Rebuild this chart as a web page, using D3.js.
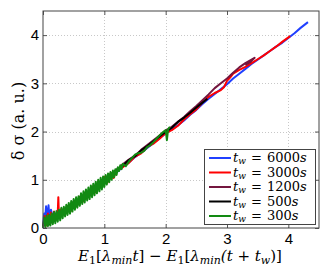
<!DOCTYPE html>
<html><head><meta charset="utf-8">
<script src="https://cdn.jsdelivr.net/npm/d3@7"></script>
<style>body{margin:0;background:#fff}svg{display:block}</style>
</head><body>
<svg id="c" width="332" height="270"></svg>
<script>
const xTicks = [0, 1, 2, 3, 4];
const yTicks = [0, 1, 2, 3, 4];
const seriesLabels = ["6000s", "3000s", "1200s", "500s", "300s"];
const seriesColors = ["#2040ff", "#ff0000", "#74163f", "#000000", "#128a12"];

const tw6000 = [[0,0.05],[0.02,0.3],[0.03,0.1],[0.05,0.45],[0.07,0.2],[0.09,0.47],[0.11,0.15],[0.13,0.38],[0.16,0.22],[0.2,0.3],[0.25,0.22],[0.3,0.38],[0.35,0.3],[0.4,0.45],[0.45,0.4],[0.5,0.55],[0.55,0.5],[0.6,0.62],[0.65,0.58],[0.7,0.72],[0.8,0.8],[0.9,0.88],[1.0,0.98],[1.1,1.06],[1.2,1.15],[1.3,1.27],[1.4,1.36],[1.5,1.47],[1.6,1.56],[1.7,1.66],[1.8,1.76],[1.9,1.86],[2.0,1.96],[2.1,2.05],[2.2,2.13],[2.3,2.23],[2.4,2.35],[2.5,2.45],[2.6,2.57],[2.7,2.68],[2.8,2.78],[2.9,2.88],[3.0,2.98],[3.1,3.1],[3.2,3.2],[3.3,3.3],[3.4,3.4],[3.5,3.49],[3.6,3.58],[3.7,3.67],[3.8,3.76],[3.9,3.84],[4.0,3.94],[4.1,4.04],[4.2,4.15],[4.32,4.27]];
const tw3000 = [[0,0.02],[0.03,0.25],[0.05,0.05],[0.08,0.3],[0.1,0.08],[0.13,0.32],[0.15,0.12],[0.18,0.34],[0.2,0.15],[0.24,0.3],[0.25,0.64],[0.26,0.22],[0.3,0.4],[0.35,0.28],[0.4,0.45],[0.45,0.35],[0.5,0.55],[0.55,0.45],[0.6,0.65],[0.65,0.55],[0.7,0.75],[0.75,0.64],[0.8,0.86],[0.85,0.74],[0.9,0.96],[0.95,0.84],[1.0,1.06],[1.05,0.94],[1.1,1.12],[1.15,1.04],[1.2,1.2],[1.3,1.26],[1.4,1.35],[1.5,1.48],[1.6,1.55],[1.7,1.68],[1.8,1.75],[1.9,1.85],[2.0,1.97],[2.1,2.03],[2.2,2.12],[2.3,2.25],[2.4,2.36],[2.5,2.46],[2.6,2.6],[2.7,2.72],[2.8,2.8],[2.9,2.86],[2.95,2.92],[3.0,3.05],[3.05,3.12],[3.1,3.2],[3.2,3.28],[3.3,3.34],[3.4,3.42],[3.5,3.5],[3.6,3.58],[3.7,3.67],[3.8,3.76],[3.9,3.86],[4.03,3.98]];
const tw1200 = [[0,0.05],[0.05,0.2],[0.1,0.1],[0.15,0.28],[0.2,0.18],[0.3,0.34],[0.4,0.4],[0.5,0.52],[0.6,0.58],[0.7,0.72],[0.8,0.8],[0.9,0.94],[1.0,1.0],[1.1,1.12],[1.2,1.2],[1.3,1.32],[1.4,1.42],[1.5,1.5],[1.6,1.62],[1.7,1.72],[1.8,1.82],[1.9,1.92],[2.0,2.02],[2.1,2.1],[2.2,2.2],[2.3,2.3],[2.4,2.42],[2.5,2.53],[2.6,2.65],[2.7,2.77],[2.8,2.9],[2.9,3.0],[3.0,3.1],[3.1,3.22],[3.2,3.33],[3.3,3.42],[3.45,3.53],[3.38,3.44],[3.3,3.38]];
const tw500 = [[0,0.03],[0.05,0.15],[0.1,0.08],[0.2,0.22],[0.3,0.3],[0.4,0.42],[0.5,0.48],[0.6,0.62],[0.7,0.68],[0.8,0.82],[0.9,0.88],[1.0,1.01],[1.1,1.08],[1.2,1.21],[1.3,1.29],[1.4,1.41],[1.5,1.49],[1.6,1.61],[1.7,1.7],[1.8,1.8],[1.9,1.9],[2.0,1.99],[2.1,2.08],[2.2,2.2],[2.3,2.29],[2.4,2.39],[2.5,2.5],[2.6,2.6],[2.68,2.68]];
const tw300 = [[0,0.0],[0.02,0.22],[0.04,0.02],[0.06,0.26],[0.08,0.04],[0.1,0.27],[0.12,0.05],[0.14,0.3],[0.16,0.08],[0.18,0.33],[0.2,0.1],[0.22,0.35],[0.24,0.13],[0.26,0.38],[0.28,0.16],[0.3,0.42],[0.32,0.2],[0.34,0.44],[0.36,0.24],[0.38,0.48],[0.4,0.27],[0.42,0.52],[0.44,0.3],[0.46,0.56],[0.48,0.34],[0.5,0.6],[0.52,0.38],[0.54,0.64],[0.56,0.42],[0.58,0.66],[0.6,0.46],[0.62,0.72],[0.64,0.5],[0.66,0.76],[0.68,0.53],[0.7,0.8],[0.72,0.57],[0.74,0.84],[0.76,0.6],[0.78,0.88],[0.8,0.64],[0.82,0.92],[0.84,0.68],[0.86,0.96],[0.88,0.72],[0.9,1.0],[0.92,0.76],[0.94,1.04],[0.96,0.8],[0.98,1.07],[1.0,0.85],[1.02,1.1],[1.04,0.9],[1.06,1.13],[1.08,0.95],[1.1,1.16],[1.12,1.0],[1.14,1.19],[1.16,1.05],[1.18,1.22],[1.2,1.1],[1.22,1.26],[1.24,1.18],[1.26,1.3],[1.28,1.22],[1.3,1.33],[1.35,1.28],[1.4,1.38],[1.45,1.45],[1.5,1.52],[1.55,1.55],[1.6,1.56],[1.65,1.6],[1.7,1.68],[1.75,1.72],[1.8,1.78],[1.85,1.85],[1.9,1.92],[1.95,1.98],[2.0,2.03],[2.02,1.82],[2.04,2.05],[2.07,2.1]];

const seriesData = [tw6000, tw3000, tw1200, tw500, tw300];

const svg = d3.select("#c");
const L = 43, R = 319, T = 11, B = 228;
const x = d3.scaleLinear().domain([0, 4.5]).range([L, R]);
const y = d3.scaleLinear().domain([0, 4.5]).range([B, T]);

// grid
const grid = svg.append("g").attr("stroke", "#c8c8c8").attr("stroke-width", 1).attr("stroke-dasharray", "1,2");
grid.selectAll("line.gx").data(xTicks.filter(d => d > 0)).join("line")
  .attr("x1", d => Math.round(x(d)) + 0.5).attr("x2", d => Math.round(x(d)) + 0.5).attr("y1", T).attr("y2", B);
grid.selectAll("line.gy").data(yTicks.filter(d => d > 0)).join("line")
  .attr("y1", d => Math.round(y(d)) + 0.5).attr("y2", d => Math.round(y(d)) + 0.5).attr("x1", L).attr("x2", R);

// series
const line = d3.line().x(d => x(d[0])).y(d => y(d[1]));
seriesData.forEach((data, i) => {
  svg.append("path").attr("d", line(data)).attr("fill", "none")
    .attr("stroke", seriesColors[i]).attr("stroke-width", 2).attr("stroke-linejoin", "round");
});

// axes
const xAxis = d3.axisBottom(x).tickValues(xTicks).tickSize(-4).tickPadding(5).tickFormat(d3.format("d"));
const yAxis = d3.axisLeft(y).tickValues(yTicks).tickSize(-4).tickPadding(4).tickFormat(d3.format("d"));
const gx = svg.append("g").attr("transform", `translate(0,${B})`).call(xAxis);
const gy = svg.append("g").attr("transform", `translate(${L},0)`).call(yAxis);
const gxTop = svg.append("g").attr("transform", `translate(0,${T})`).call(d3.axisTop(x).tickValues(xTicks).tickSize(-4).tickFormat(""));
const gyR = svg.append("g").attr("transform", `translate(${R},0)`).call(d3.axisRight(y).tickValues(yTicks).tickSize(-4).tickFormat(""));
[gx, gy, gxTop, gyR].forEach(g => {
  g.select(".domain").remove();
  g.selectAll(".tick line").attr("stroke", "#555");
  g.selectAll("text").attr("font-family", "Liberation Sans, Arial, sans-serif").attr("font-size", 15).attr("fill", "#000");
});
svg.append("rect").attr("x", L).attr("y", T).attr("width", R - L).attr("height", B - T)
  .attr("fill", "none").attr("stroke", "#444").attr("stroke-width", 1);

// legend
const lg = svg.append("g");
lg.append("rect").attr("x", 204.5).attr("y", 149.5).attr("width", 111).attr("height", 75)
  .attr("fill", "#fff").attr("stroke", "#444").attr("stroke-width", 1);
seriesLabels.forEach((lab, i) => {
  const yy = 158 + i * 14.5;
  lg.append("line").attr("x1", 209).attr("x2", 231).attr("y1", yy).attr("y2", yy)
    .attr("stroke", seriesColors[i]).attr("stroke-width", 2);
  const t = lg.append("text").attr("x", 233).attr("y", yy + 4)
    .attr("font-family", "DejaVu Serif, serif").attr("font-size", 13);
  t.append("tspan").attr("font-style", "italic").text("t");
  t.append("tspan").attr("font-style", "italic").attr("font-size", 9).attr("dy", 2).text("w");
  t.append("tspan").attr("dy", -2).attr("x", 251).text("=");
  t.append("tspan").attr("x", 267).text(lab.slice(0, -1));
  t.append("tspan").attr("font-style", "italic").text("s");
});

// x label
const xl = svg.append("text").attr("text-anchor", "middle").attr("x", 180).attr("y", 261)
  .attr("font-family", "DejaVu Serif, serif").attr("font-size", 15);
const parts = [
  ["E", "i", 0], ["1", "n", 1], ["[", "n", 0], ["λ", "i", 0], ["min", "i", 1], ["t", "i", 0], ["] − ", "n", 0],
  ["E", "i", 0], ["1", "n", 1], ["[", "n", 0], ["λ", "i", 0], ["min", "i", 1], ["(t + t", "i", 0], ["w", "i", 1], [")]", "n", 0]
];
let sub = false;
parts.forEach(([s, st, isSub]) => {
  const ts = xl.append("tspan").text(s).attr("font-style", st === "i" ? "italic" : "normal");
  if (isSub) { ts.attr("font-size", 11).attr("dy", sub ? 0 : 3); sub = true; }
  else { if (sub) ts.attr("dy", -3); sub = false; }
});

// y label
svg.append("text").attr("transform", "translate(24,121) rotate(-90)").attr("text-anchor", "middle")
  .attr("font-family", "DejaVu Serif, serif").attr("font-size", 16).text("δ σ (a. u.)");
</script>
</body></html>
